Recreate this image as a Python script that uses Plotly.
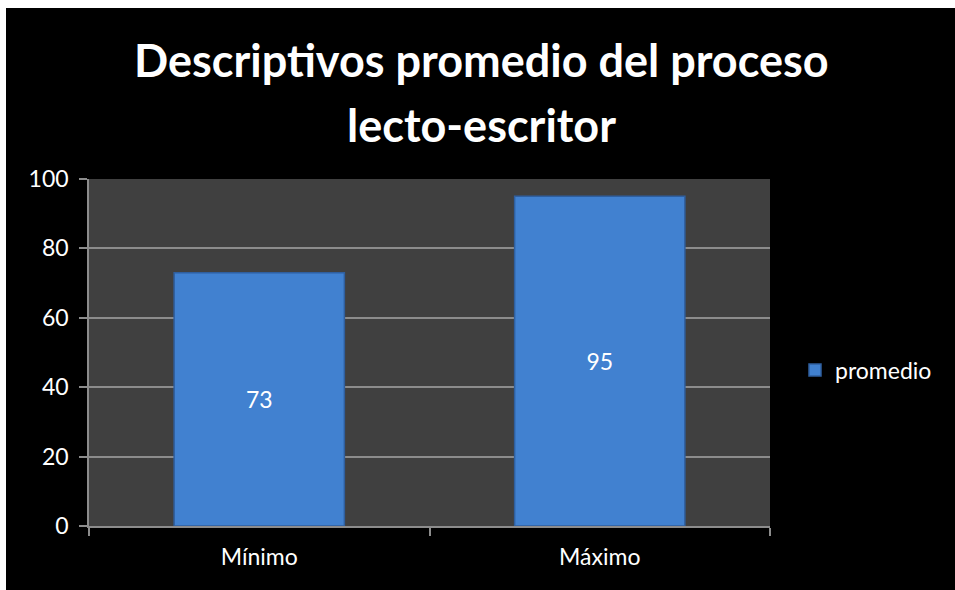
import plotly.graph_objects as go

categories = ["Mínimo", "Máximo"]
values = [73, 95]
series_name = "promedio"
title_lines = ["Descriptivos promedio del proceso", "lecto-escritor"]
y_ticks = [0, 20, 40, 60, 80, 100]

W, H = 955, 590
L, R, T, B = 89, 185, 179, 64
pw, ph = W - L - R, H - T - B

def px_x(px):
    return (px - L) / pw

def px_y(py):
    return (H - B - py) / ph

FONT = "Lato"
FS = 23

fig = go.Figure()
fig.add_trace(go.Bar(
    x=categories, y=values, name=series_name,
    marker=dict(color="#4181d0", line=dict(color="#2f5f9f", width=1.5)),
    width=0.5,
    text=[str(v) for v in values], textposition="inside",
    insidetextanchor="middle",
    textfont=dict(color="white", size=FS, family=FONT),
    showlegend=True,
))

annotations = []
for line, py in zip(title_lines, [60, 125]):
    annotations.append(dict(
        text="<b>" + line + "</b>", xref="paper", yref="paper",
        x=px_x(481), y=px_y(py), xanchor="center", yanchor="middle",
        showarrow=False, font=dict(color="white", size=45, family=FONT)))

shapes = [
    dict(type="rect", xref="paper", yref="paper", layer="above",
         x0=px_x(-5), x1=px_x(6), y0=px_y(H + 5), y1=px_y(-5),
         fillcolor="white", line=dict(width=0)),
    dict(type="rect", xref="paper", yref="paper", layer="above",
         x0=px_x(-5), x1=px_x(W + 5), y0=px_y(8), y1=px_y(-5),
         fillcolor="white", line=dict(width=0)),
]

fig.update_layout(
    width=W, height=H,
    margin=dict(l=L, r=R, t=T, b=B, pad=0),
    paper_bgcolor="black", plot_bgcolor="#404040",
    font=dict(family=FONT, color="white", size=FS),
    annotations=annotations, shapes=shapes,
    xaxis=dict(
        type="category", showgrid=False, showline=True, linecolor="#8c8c8c",
        linewidth=1.5, ticks="outside", tickson="boundaries", ticklen=8,
        tickcolor="#8c8c8c", tickwidth=1.5, ticklabelstandoff=10,
        tickfont=dict(color="white", size=FS, family=FONT), fixedrange=True,
    ),
    yaxis=dict(
        range=[0, 100], tickvals=y_ticks, showgrid=True, gridcolor="#8c8c8c",
        gridwidth=1.5, showline=True, linecolor="#8c8c8c", linewidth=1.5,
        ticks="outside", ticklen=8, tickcolor="#8c8c8c", tickwidth=1.5,
        zeroline=False, tickfont=dict(color="white", size=FS, family=FONT),
        ticklabelstandoff=6,
    ),
    legend=dict(
        x=px_x(795), y=px_y(370), xanchor="left", yanchor="middle",
        font=dict(color="white", size=FS, family=FONT),
        bgcolor="rgba(0,0,0,0)", itemwidth=30,
    ),
)

fig.write_html(
    "out.html",
    config={"displayModeBar": False},
    post_script="document.body.style.margin='0';document.body.style.overflow='hidden';",
)
